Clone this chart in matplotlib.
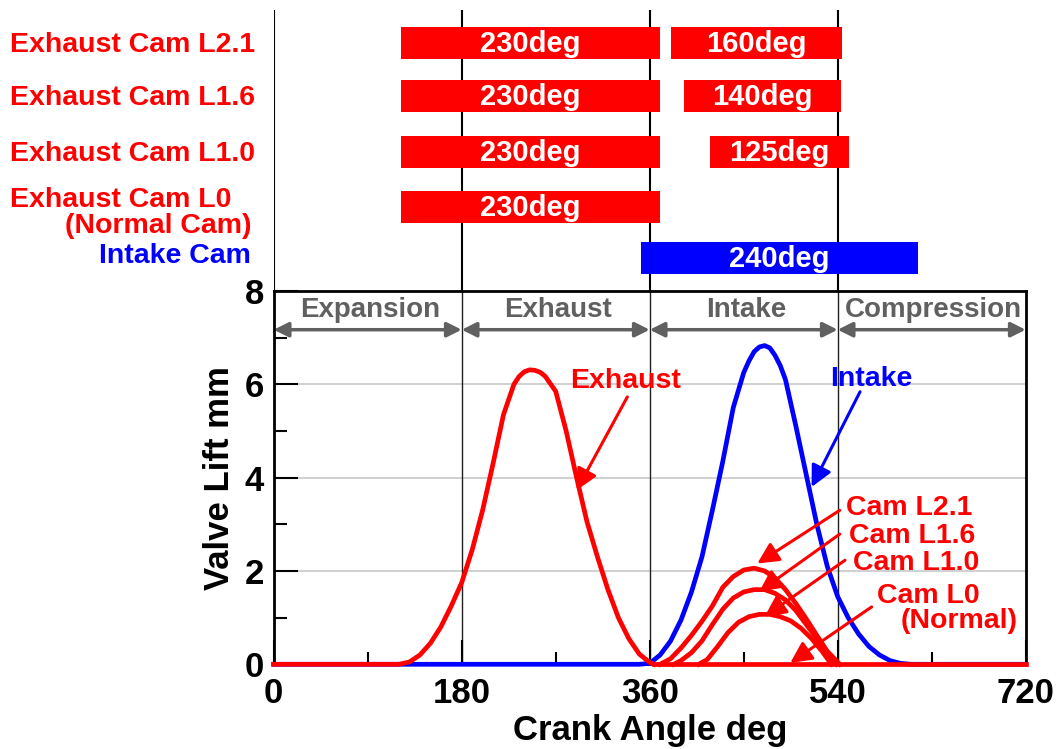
import matplotlib
matplotlib.use('Agg')
import matplotlib.pyplot as plt

plt.rcParams['font.family'] = ['Liberation Sans', 'DejaVu Sans']
plt.rcParams['font.weight'] = 'bold'
plt.rcParams['axes.labelweight'] = 'bold'

# valve lift curves (crank angle deg, lift mm)
exh_deg = [0, 120, 130, 140, 150, 160, 170, 180, 190, 200, 210, 220, 230, 235, 240, 245, 250,
           255, 260, 270, 280, 290, 300, 310, 320, 330, 340, 350, 360, 364]
exh_lift = [0, 0, 0.05, 0.2, 0.45, 0.8, 1.25, 1.75, 2.45, 3.3, 4.3, 5.35, 6.0, 6.17, 6.27, 6.31, 6.3,
            6.26, 6.17, 5.85, 5.0, 4.0, 3.05, 2.3, 1.6, 1.0, 0.55, 0.22, 0.04, 0]

int_deg = [0, 350, 360, 370, 380, 390, 400, 410, 420, 430, 440, 450, 455, 460, 465, 470, 475, 480,
           485, 490, 500, 510, 520, 530, 540, 550, 560, 570, 580, 590, 600, 610, 720]
int_lift = [0, 0, 0.02, 0.2, 0.5, 0.95, 1.55, 2.3, 3.3, 4.35, 5.5, 6.25, 6.5, 6.7, 6.8, 6.83, 6.78, 6.62,
            6.4, 6.1, 5.1, 4.05, 3.0, 2.1, 1.45, 1.0, 0.65, 0.38, 0.2, 0.08, 0.02, 0, 0]

l21_deg = [370, 380, 390, 400, 410, 420, 430, 440, 450, 460, 470, 480, 490, 500, 510, 520, 530, 542]
l21_lift = [0, 0.12, 0.35, 0.62, 0.92, 1.25, 1.65, 1.88, 2.02, 2.06, 2.0, 1.85, 1.6, 1.3, 0.97, 0.62, 0.28, 0]

l16_deg = [383, 390, 400, 410, 420, 430, 440, 450, 460, 470, 480, 490, 500, 510, 520, 530, 539]
l16_lift = [0, 0.08, 0.25, 0.5, 0.85, 1.18, 1.42, 1.55, 1.6, 1.6, 1.52, 1.38, 1.15, 0.85, 0.55, 0.22, 0]

l10_deg = [407, 415, 425, 435, 445, 455, 465, 475, 485, 495, 505, 515, 525, 534]
l10_lift = [0, 0.1, 0.38, 0.68, 0.9, 1.02, 1.07, 1.07, 1.02, 0.93, 0.77, 0.55, 0.28, 0]

l0_deg = [364, 720]
l0_lift = [0, 0]

# cam duration bars (start, end in deg)
bar_labels = ['230deg', '160deg', '230deg', '140deg', '230deg', '125deg', '230deg', '240deg']
bar_start = [122, 380, 122, 393, 122, 418, 122, 352]
bar_end = [370, 544, 370, 543, 370, 551, 370, 617]
bar_row = [0, 0, 1, 1, 2, 2, 3, 4]
bar_color = ['red'] * 7 + ['blue']

row_names = ['Exhaust Cam L2.1', 'Exhaust Cam L1.6', 'Exhaust Cam L1.0',
             'Exhaust Cam L0\n(Normal Cam)', 'Intake Cam']

phases = ['Expansion', 'Exhaust', 'Intake', 'Compression']
phase_bounds = [0, 180, 360, 540, 720]

fig = plt.figure(figsize=(10.56, 7.49), dpi=100)
ax = fig.add_axes([0.2592, 0.1131, 0.7121, 0.4984])
axt = fig.add_axes([0.2592, 0.6115, 0.7121, 0.3885])

# ---- main lift plot
ax.plot(int_deg, int_lift, color='blue', lw=3.4, solid_joinstyle='round', zorder=3, clip_on=False)
ax.plot(exh_deg, exh_lift, color='red', lw=3.4, solid_joinstyle='round', zorder=4, clip_on=False)
for d, l in [(l0_deg, l0_lift), (l10_deg, l10_lift), (l16_deg, l16_lift), (l21_deg, l21_lift)]:
    ax.plot(d, l, color='red', lw=3.4, solid_joinstyle='round', zorder=4, clip_on=False)

ax.set_xlim(0, 720)
ax.set_ylim(0, 8)
ax.set_xticks([0, 180, 360, 540, 720])
ax.set_xticks([90, 270, 450, 630], minor=True)
ax.set_yticks([0, 2, 4, 6, 8])
ax.set_yticks([1, 3, 5, 7], minor=True)
ax.tick_params(which='both', direction='in', labelsize=25, width=1.5, color='black')
ax.tick_params(which='major', length=17)
ax.tick_params(which='minor', length=9)
ax.tick_params(axis='x', pad=9)
ax.tick_params(axis='y', pad=7)
for s in ax.spines.values():
    s.set_linewidth(2)
for y in [2, 4, 6]:
    ax.axhline(y, color='#c8c8c8', lw=1.2, zorder=1)
for x in [180, 360, 540]:
    ax.axvline(x, color='#202020', lw=1, zorder=1)
ax.set_xlabel('Crank Angle deg', fontsize=25, labelpad=3)
ax.set_ylabel('Valve Lift mm', fontsize=25, labelpad=6)

# stroke arrows
for i, name in enumerate(phases):
    a, b = phase_bounds[i], phase_bounds[i + 1]
    ax.annotate('', xy=(b, 7.17), xytext=(a, 7.17),
                arrowprops=dict(arrowstyle='<|-|>', color='#606060', lw=2.5,
                                mutation_scale=22, shrinkA=0, shrinkB=0), zorder=5)
    ax.text((a + b) / 2 + 2, 7.6, name, color='#606060', fontsize=20,
            ha='center', va='center')

# annotations
def note(tip, tail, color):
    ax.annotate('', xy=tip, xytext=tail,
                arrowprops=dict(arrowstyle='-|>', color=color, lw=2.2,
                                mutation_scale=32, shrinkA=0, shrinkB=0), zorder=6)

note((290, 3.73), (338.6, 5.73), 'red')
ax.text(337, 6.07, 'Exhaust', color='red', fontsize=20.5, ha='center', va='center')
note((515, 3.8), (561.4, 5.84), 'blue')
ax.text(572.5, 6.11, 'Intake', color='blue', fontsize=20.5, ha='center', va='center')

note((463, 2.16), (542, 3.3), 'red')
ax.text(548, 3.34, 'Cam L2.1', color='red', fontsize=20.5, ha='left', va='center')
note((465, 1.56), (542, 2.79), 'red')
ax.text(551, 2.74, 'Cam L1.6', color='red', fontsize=20.5, ha='left', va='center')
note((470, 1.02), (547, 2.23), 'red')
ax.text(555, 2.17, 'Cam L1.0', color='red', fontsize=20.5, ha='left', va='center')
note((494.6, 0.03), (572.5, 1.23), 'red')
ax.text(577.5, 1.46, 'Cam L0', color='red', fontsize=20.5, ha='left', va='center')
ax.text(600, 0.93, '(Normal)', color='red', fontsize=20.5, ha='left', va='center')

# ---- cam duration bars
row_y = [43, 96, 152, 207, 258]
axt.set_xlim(0, 720)
axt.set_ylim(291, 0)
axt.axis('off')
axt.vlines([0, 180, 360, 540], 10, 291, color='black', lw=1.5, zorder=1)
for lab, s, e, r, c in zip(bar_labels, bar_start, bar_end, bar_row, bar_color):
    axt.barh(row_y[r], e - s, left=s, height=32, color=c, zorder=2)
    axt.text((s + e) / 2, row_y[r] + 1, lab, color='white', fontsize=21,
             ha='center', va='center', zorder=3)

for i, name in enumerate(row_names):
    c = 'blue' if i == 4 else 'red'
    if i == 3:
        axt.text(-252.5, 200, 'Exhaust Cam L0', color=c, fontsize=20.5,
                 ha='left', va='center', clip_on=False)
        axt.text(-21, 226, '(Normal Cam)', color=c, fontsize=20.5,
                 ha='right', va='center', clip_on=False)
    elif i == 4:
        axt.text(-22, 256, name, color=c, fontsize=20.5,
                 ha='right', va='center', clip_on=False)
    else:
        axt.text(-252.5, row_y[i] + 2, name, color=c, fontsize=20.5,
                 ha='left', va='center', clip_on=False)

fig.savefig('out.png', dpi=100)
